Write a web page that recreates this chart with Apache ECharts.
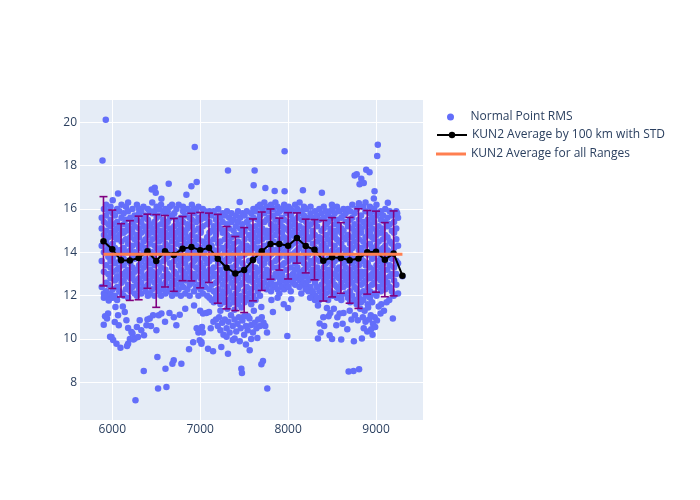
<!DOCTYPE html>
<html>
<head>
<meta charset="utf-8">
<script src="https://cdn.jsdelivr.net/npm/echarts@6/dist/echarts.min.js"></script>
<style>html,body{margin:0;padding:0;background:#fff}#c{width:700px;height:500px}</style>
</head>
<body>
<div id="c"></div>
<script>
// ---- Data ----
const xTicks = [6000, 7000, 8000, 9000];
const yTicks = [8, 10, 12, 14, 16, 18, 20];

// Normal Point RMS: dense band, by range column [range_km, [rms values]]
const bandColumns = [
[5880,[14.3,15.1,13.6,12.4,15.6]],
[5905,[14.8,13.1,15.4,12.1,14.0,16.0,11.9]],
[5930,[15.7,12.6,14.5,13.4,15.0,12.2,14.1,16.2]],
[5955,[13.0,15.3,14.7,12.0,15.9,13.8,12.5,14.3]],
[5980,[15.5,12.8,14.0,13.3,16.1,12.1,14.9,13.6,15.2]],
[6005,[14.4,12.3,15.8,13.1,14.9,11.9,13.7,15.3,16.4]],
[6030,[13.5,15.0,12.7,14.2,15.7,12.0,13.9,14.7]],
[6055,[15.4,12.4,14.6,13.2,16.0,12.9,14.0,15.1,11.8]],
[6080,[14.1,15.9,12.2,13.6,15.2,12.8,14.8,13.3]],
[6105,[12.6,14.5,15.6,13.0,16.2,14.1,12.1,15.0,13.8]],
[6130,[15.3,13.4,12.0,14.9,15.8,12.7,14.2,13.7]],
[6155,[14.0,12.3,15.5,13.1,16.1,14.6,12.9,15.0]],
[6180,[13.6,15.2,12.5,14.4,15.9,11.9,14.0,13.2,16.3]],
[6205,[15.0,12.8,14.7,13.5,15.6,12.2,14.1,13.0]],
[6230,[12.4,14.3,15.4,13.8,16.0,12.9,14.9,13.3,15.1]],
[6255,[14.6,13.1,15.7,12.1,14.0,15.2,12.7,13.7]],
[6280,[15.5,12.5,13.9,14.8,16.2,13.2,12.0,14.4]],
[6305,[13.4,15.1,12.8,14.2,15.8,12.3,14.7,13.8,16.0]],
[6330,[14.9,12.6,15.4,13.6,12.1,14.3,15.9,13.1]],
[6355,[12.9,14.5,15.2,13.3,16.1,12.4,14.0,15.6]],
[6380,[15.0,13.7,12.2,14.6,15.7,12.8,13.4,14.2]],
[6405,[14.1,12.5,15.5,13.0,16.0,14.8,12.0,13.6,15.2]],
[6430,[13.5,15.3,12.7,14.4,15.9,13.2,12.1,14.9]],
[6455,[15.8,12.3,14.0,13.8,15.1,12.9,14.6,13.1,16.3]],
[6480,[14.3,12.6,15.4,13.4,14.9,12.0,15.9,13.7]],
[6505,[12.8,14.7,15.6,13.0,16.1,14.2,12.4,15.2]],
[6530,[15.0,13.5,12.2,14.5,15.7,13.1,14.0,12.7,16.0]],
[6555,[13.9,15.3,12.5,14.8,16.2,13.3,12.0,14.2]],
[6580,[14.6,12.9,15.5,13.6,15.0,12.3,14.1,15.9]],
[6605,[12.6,14.4,15.8,13.2,16.0,14.9,12.1,13.7,15.2]],
[6630,[15.4,13.0,14.3,12.8,15.9,13.8,12.2,14.7]],
[6655,[14.0,15.6,12.4,13.5,16.1,14.8,12.9,15.1]],
[6680,[13.3,15.0,12.0,14.5,15.7,13.9,12.6,14.2,16.2]],
[6705,[15.2,12.7,14.1,13.6,15.8,12.2,14.7,13.1]],
[6730,[14.4,13.0,15.5,12.5,14.9,16.0,13.7,12.1]],
[6755,[12.8,14.6,15.3,13.4,16.2,14.0,12.3,15.0,13.9]],
[6780,[15.6,13.2,12.6,14.3,15.1,12.0,14.8,13.6]],
[6805,[14.2,15.9,12.4,13.8,15.4,12.9,14.6,13.1,16.1]],
[6830,[13.5,15.0,12.1,14.4,15.7,13.0,12.7,14.9]],
[6855,[15.3,12.8,14.1,13.7,16.0,12.3,14.7,15.1,13.3]],
[6880,[14.5,13.1,15.6,12.5,14.0,15.9,12.0,13.8]],
[6905,[12.9,14.8,15.2,13.4,16.2,14.2,12.6,15.5]],
[6930,[15.0,13.6,12.2,14.5,15.8,13.0,14.0,12.7,16.0]],
[6955,[14.3,12.4,15.4,13.3,15.9,12.9,14.7,13.8]],
[6980,[13.7,15.1,12.0,14.6,16.1,13.2,12.5,14.1,15.6]],
[7005,[15.5,12.8,14.2,13.5,15.0,12.3,14.9,13.0]],
[7030,[14.0,15.7,12.6,13.9,15.2,12.1,14.5,13.3,16.0]],
[7055,[12.9,14.4,15.6,13.1,15.9,14.1,12.4,13.7]],
[7080,[15.3,13.5,12.0,14.7,15.8,12.7,14.2,13.0]],
[7105,[14.5,12.3,15.4,13.6,14.9,11.9,15.9,13.2,12.8]],
[7130,[13.1,15.0,12.5,14.3,15.7,11.8,14.0,13.8]],
[7155,[15.2,12.9,14.6,13.3,15.9,12.2,14.1,11.7,13.7]],
[7180,[14.0,12.1,15.5,13.0,14.8,12.6,15.0,11.9]],
[7205,[12.7,14.4,15.3,13.5,16.0,11.8,14.1,12.3,15.7]],
[7230,[15.1,13.2,12.0,14.5,15.6,12.8,13.8,11.6]],
[7255,[14.2,12.5,15.4,13.0,14.9,11.9,13.6,15.8,12.2]],
[7280,[13.4,15.0,12.1,14.6,15.7,12.7,14.0,11.7]],
[7305,[15.3,12.9,14.3,13.1,15.9,12.4,14.8,11.8,13.7]],
[7330,[14.5,12.2,15.1,13.6,14.0,11.6,15.6,12.8]],
[7355,[12.6,14.2,15.4,13.3,15.8,12.0,14.7,13.9,11.9]],
[7380,[15.0,13.0,12.4,14.4,15.5,11.7,13.7,12.9]],
[7405,[14.1,12.7,15.2,13.4,14.8,12.1,15.7,11.8,13.1]],
[7430,[13.6,15.4,12.3,14.5,15.9,12.8,11.6,14.0]],
[7455,[15.1,12.5,14.2,13.2,15.6,12.0,14.8,13.8,11.8]],
[7480,[14.4,13.0,15.3,12.6,14.9,11.9,15.8,13.5]],
[7505,[12.8,14.6,15.0,13.3,15.7,12.2,14.1,11.7,13.9]],
[7530,[15.4,13.1,12.4,14.3,15.9,12.9,14.0,11.9]],
[7555,[14.0,12.7,15.5,13.6,14.8,12.1,15.2,13.2,11.8]],
[7580,[13.4,15.1,12.3,14.6,15.8,12.8,14.2,11.6]],
[7605,[15.6,12.6,14.4,13.0,16.0,12.0,14.9,13.7]],
[7630,[14.2,13.3,15.2,12.4,14.7,15.9,12.9,11.8,13.8]],
[7655,[12.7,14.5,15.5,13.1,16.1,14.0,12.2,15.0]],
[7680,[15.3,13.6,12.5,14.2,15.7,12.0,14.8,13.2,16.2]],
[7705,[14.6,12.9,15.1,13.4,16.0,12.4,14.1,13.8]],
[7730,[13.5,15.4,12.6,14.3,15.8,13.0,14.9,16.3]],
[7755,[15.0,12.8,14.7,13.7,16.1,12.3,14.0,15.5,13.2]],
[7780,[14.4,13.1,15.6,12.5,14.9,15.9,13.8,12.9]],
[7805,[12.6,14.2,15.3,13.5,16.2,14.7,12.2,15.0,13.9]],
[7830,[15.7,13.3,14.0,12.8,15.1,16.0,14.5,12.4]],
[7855,[14.1,12.5,15.5,13.6,16.3,14.8,13.0,15.2]],
[7880,[13.7,15.0,12.9,14.4,15.8,12.3,14.0,13.3,16.1]],
[7905,[15.4,12.6,14.6,13.1,15.9,14.2,12.8,13.8]],
[7930,[14.3,13.4,15.2,12.4,14.9,16.0,13.0,15.6,12.9]],
[7955,[12.7,14.7,15.5,13.5,16.2,14.0,12.3,15.1]],
[7980,[15.1,13.2,12.6,14.5,15.8,13.8,14.1,16.0,12.5]],
[8005,[14.6,12.9,15.4,13.6,16.1,12.4,14.2,15.0]],
[8030,[13.3,15.7,12.7,14.8,15.2,13.9,12.2,14.3,16.0]],
[8055,[15.5,13.0,14.4,12.6,15.9,13.7,14.9,12.9]],
[8080,[14.0,15.3,12.8,13.5,16.2,14.7,12.5,15.0,13.2]],
[8105,[12.9,14.5,15.6,13.8,15.1,14.1,13.3,16.0]],
[8130,[15.2,13.6,14.2,12.7,15.8,13.1,14.8,12.4,16.3]],
[8155,[14.4,13.0,15.5,12.8,14.9,15.9,13.7,12.5]],
[8180,[13.5,15.1,14.0,12.6,15.7,13.2,14.6,16.1]],
[8205,[15.4,12.9,14.3,13.8,16.0,12.5,14.8,13.3,15.0]],
[8230,[14.1,15.6,12.7,13.4,15.2,14.6,12.2,13.9]],
[8255,[12.8,14.7,15.3,13.1,16.1,14.0,12.4,15.8,13.6]],
[8280,[15.0,13.5,12.1,14.4,15.6,12.9,14.9,13.2]],
[8305,[14.2,12.6,15.4,13.7,14.8,12.0,15.9,13.0,11.8]],
[8330,[13.3,15.2,12.4,14.5,15.7,12.8,14.0,11.9]],
[8355,[15.5,12.9,14.1,13.6,16.0,12.2,14.7,13.1,11.8]],
[8380,[14.6,13.0,15.0,12.5,14.3,15.8,12.0,13.8]],
[8405,[12.7,14.4,15.6,13.3,15.1,11.9,14.0,12.3,16.1]],
[8430,[15.3,13.5,12.1,14.8,15.9,12.8,14.2,13.0]],
[8455,[14.0,12.6,15.4,13.2,14.6,11.8,15.7,13.7,12.4]],
[8480,[13.6,15.1,12.2,14.4,15.9,12.9,14.9,13.1]],
[8505,[15.6,12.7,14.1,13.4,15.0,12.0,14.7,13.9,16.0]],
[8530,[14.3,13.0,15.3,12.5,14.8,15.8,12.1,13.6]],
[8555,[12.9,14.6,15.5,13.2,16.1,14.0,12.4,15.0,11.9]],
[8580,[15.2,13.7,12.3,14.5,15.9,12.8,14.1,13.3]],
[8605,[14.4,12.6,15.6,13.0,14.9,12.0,15.1,13.8,11.8]],
[8630,[13.5,15.0,12.9,14.2,15.7,12.4,14.7,13.1,16.0]],
[8655,[15.4,13.3,12.1,14.6,15.8,12.7,14.0,13.7]],
[8680,[14.1,12.5,15.2,13.6,16.0,11.9,14.8,13.0,12.8]],
[8705,[12.8,14.4,15.5,13.2,15.9,12.2,14.0,11.7,13.8]],
[8730,[15.1,13.5,12.6,14.7,15.6,12.0,14.2,13.0,16.2]],
[8755,[14.5,12.9,15.3,13.3,14.9,11.8,15.8,13.7,12.4]],
[8780,[13.6,15.0,12.3,14.3,16.0,12.7,14.8,11.6,13.1]],
[8805,[15.5,12.8,14.1,13.4,15.2,12.1,14.6,16.2,11.9]],
[8830,[14.2,13.1,15.7,12.5,14.9,11.7,15.1,13.8,12.9]],
[8855,[12.6,14.5,15.4,13.0,16.1,12.2,14.0,11.8,13.6]],
[8880,[15.2,13.4,12.7,14.7,15.9,12.0,14.3,13.1,16.3]],
[8905,[14.0,12.9,15.5,13.5,14.8,11.6,15.0,12.4,13.9]],
[8930,[13.3,15.3,12.2,14.4,15.8,12.8,14.9,11.9,16.1]],
[8955,[15.6,12.5,14.2,13.7,15.1,11.7,14.7,13.0,12.9]],
[8980,[14.6,13.2,15.4,12.6,16.0,12.1,14.0,13.8,15.9]],
[9005,[12.8,14.3,15.7,13.4,15.0,12.0,14.8,13.1,16.2]],
[9030,[15.2,13.6,12.4,14.5,15.8,12.9,14.1,13.0]],
[9055,[14.0,12.7,15.5,13.3,14.9,12.2,15.9,13.8]],
[9080,[13.5,15.1,12.5,14.6,15.7,12.9,14.2,13.1]],
[9105,[15.4,12.8,14.3,13.6,16.0,12.3,14.8]],
[9130,[14.1,13.2,15.6,12.6,14.7,15.2,13.8]],
[9155,[12.9,14.5,15.3,13.4,15.9,12.4,14.0]],
[9180,[15.0,13.7,12.2,14.4,15.7,13.0]],
[9205,[14.2,12.7,15.4,13.3,14.9,15.8]],
[9230,[13.6,15.1,12.5,14.6,15.9,13.0]],
[9250,[14.3,15.6,12.1,13.5]],
[9300,[12.9]]
];

// Normal Point RMS: scattered points outside the dense band [range_km, rms]
const outlierPoints = [
[5926,20.12],[5889,18.24],[6938,18.86],[7960,18.67],[9020,18.97],[9013,18.44],
[7316,17.78],[7619,17.78],[7608,17.09],[6642,17.17],[6483,16.98],[6494,16.75],[6449,16.9],
[6843,16.66],[6900,17.05],[6960,17.24],[6066,16.71],[6559,16.47],[7741,16.97],[7847,16.83],
[7960,16.82],[8168,16.86],[7449,16.32],[8888,17.81],[8926,17.7],[8832,17.4],[8756,17.55],
[8780,17.6],[8813,17.14],[8860,17.2],[8983,16.82],[8975,16.48],[9134,16.29],[8384,16.75],
[8498,16.2],[8805,16.27],[9240,15.8],
[5903,10.66],[5952,11.17],[5915,12.0],[5960,11.78],[6036,11.47],[6066,11.09],[6028,10.78],
[6074,10.63],[5991,10.09],[6048,9.78],[6093,9.6],[6142,11.25],[6161,10.86],[6180,10.51],
[6218,10.32],[6180,9.78],[6168,9.68],[6256,10.02],[6293,10.09],[6361,10.17],[6312,10.86],
[6389,10.63],[6426,10.94],[6502,10.4],[6528,11.09],[6464,11.09],[6559,11.17],[6729,10.63],
[6767,11.12],[6873,9.52],[6930,11.55],[7020,10.55],[6994,9.94],[7014,9.78],[6513,9.17],
[6358,8.52],[6605,8.63],[6699,9.02],[6786,8.86],[6684,8.86],[6521,7.71],[6616,7.78],[6264,7.17],
[5918,11.05],[5940,10.95],[5975,10.1],[6010,9.95],[6120,11.5],[6200,10.0],[6230,10.25],
[6240,9.98],[6280,10.55],[6330,10.4],[6400,10.9],[6440,10.6],[6600,10.8],[6650,11.2],
[6700,11.0],[6830,11.4],[6960,10.5],[6980,10.3],[7000,11.3],[6920,9.85],
[7032,11.17],[7070,11.2],[7100,11.25],[7010,10.4],[7030,10.3],[7014,9.86],[7089,9.55],
[7146,9.43],[7240,9.63],[7316,9.32],[7392,10.02],[7468,8.63],[7475,8.43],[7563,9.48],
[7714,8.98],[7696,8.83],[7763,7.71],[7991,10.14],[7998,11.43],[8036,11.83],[7827,11.25],
[7695,11.47],[7700,11.0],[7543,11.05],[7500,11.05],
[7180,10.9],[7200,10.6],[7215,11.0],[7230,10.4],[7250,10.75],[7265,10.2],[7280,10.9],
[7300,10.5],[7320,10.8],[7335,10.3],[7350,11.1],[7370,10.6],[7390,10.9],[7410,10.35],
[7425,10.7],[7440,11.0],[7460,10.5],[7480,10.85],[7500,10.2],[7520,10.6],[7540,10.4],
[7560,10.95],[7580,10.65],[7600,10.3],[7620,10.75],[7640,10.5],[7660,10.9],[7680,10.6],
[7230,11.3],[7310,11.4],[7390,11.35],[7470,11.45],[7610,11.3],[7150,10.8],[7120,10.5],
[7450,9.9],[7520,9.75],[7580,10.0],[7370,9.95],[7650,10.05],[7300,10.1],
[7740,10.6],[7760,10.3],[7720,10.75],[7810,11.8],[7880,11.9],[7900,12.1],[7950,11.6],
[8150,12.1],[8200,12.3],[8250,11.9],[8280,12.2],
[8339,11.55],[8358,10.71],[8339,10.02],[8370,10.3],[8410,10.6],[8472,10.17],[8500,10.0],
[8548,10.63],[8585,11.17],[8604,9.98],[8630,11.2],[8673,10.45],[8748,9.89],[8839,10.02],
[8793,10.86],[8860,10.5],[8880,10.8],[8900,10.35],[8920,10.9],[8945,10.45],[8965,10.7],
[8985,11.0],[9051,11.17],[9090,11.3],[9191,10.94],[8688,8.5],[8744,8.52],[8807,8.6],
[8441,11.43],[8460,11.05],[8480,11.2],[8400,11.0],[8520,11.4],[8560,11.0],[8620,10.7],
[8700,11.3],[8720,10.9],[8760,11.1],[8820,11.4],[8850,11.0],[8870,11.3],[8910,11.45],
[8940,11.1],[8960,10.2],[8990,10.55],[9010,10.85],[9030,11.5],[9060,11.6],[9120,11.7],
[9150,11.8],[9200,12.0]
];

// KUN2 average by 100 km with STD
const binRanges = [5900,6000,6100,6200,6300,6400,6500,6600,6700,6800,6900,7000,7100,7200,7300,7400,7500,7600,7700,7800,7900,8000,8100,8200,8300,8400,8500,8600,8700,8800,8900,9000,9100,9200,9300];
const binMeans = [14.51,14.14,13.63,13.62,13.74,14.05,13.6,14.05,13.88,14.17,14.24,14.1,14.21,13.7,13.29,13.02,13.18,13.65,14.05,14.38,14.38,14.3,14.66,14.29,14.12,13.61,13.77,13.74,13.63,13.71,14.0,14.03,13.66,13.95,12.92];
const binStd = [2.06,1.81,1.69,1.84,1.93,1.71,2.14,1.65,1.68,1.48,1.56,1.74,1.6,2.05,1.9,1.71,1.96,1.89,1.81,1.62,1.2,1.53,1.16,1.24,1.39,1.86,1.83,1.63,1.98,2.3,1.93,1.87,1.71,1.96,0];

// KUN2 average for all ranges
const overallMean = 13.91;
const overallRange = [5900, 9300];

// ---- Build series data ----
const scatterData = [];
bandColumns.forEach(function (col) { col[1].forEach(function (y) { scatterData.push([col[0], y]); }); });
outlierPoints.forEach(function (p) { scatterData.push(p); });
const avgData = binRanges.map(function (x, i) { return [x, binMeans[i]]; });
const errData = binRanges.map(function (x, i) { return [x, binMeans[i] - binStd[i], binMeans[i] + binStd[i]]; });
const overallData = overallRange.map(function (x) { return [x, overallMean]; });

const FONT = '"Open Sans", verdana, arial, sans-serif';
const TXT = '#2a3f5f';
const legendText = { color: TXT, fontSize: 12, fontFamily: FONT };

const chart = echarts.init(document.getElementById('c'), null, { renderer: 'canvas' });
chart.setOption({
  animation: false,
  backgroundColor: '#ffffff',
  textStyle: { fontFamily: FONT },
  grid: { left: 80, top: 100, right: 277, bottom: 80, show: true, backgroundColor: '#E5ECF6', borderWidth: 0 },
  xAxis: {
    type: 'value', min: 5633, max: 9534,
    axisLine: { show: false },
    axisTick: { show: false, customValues: xTicks },
    axisLabel: { customValues: xTicks, color: TXT, fontSize: 12, fontFamily: FONT, margin: 4,
      formatter: function (v) { return String(v); } },
    splitLine: { show: true, lineStyle: { color: '#ffffff', width: 1 } }
  },
  yAxis: {
    type: 'value', min: 6.26, max: 21.03,
    axisLine: { show: false },
    axisTick: { show: false, customValues: yTicks },
    axisLabel: { customValues: yTicks, color: TXT, fontSize: 12, fontFamily: FONT, margin: 3 },
    splitLine: { show: true, lineStyle: { color: '#ffffff', width: 1 } }
  },
  legend: [
    { data: [{ name: 'Normal Point RMS', icon: 'circle' }], left: 442, top: 106, orient: 'vertical',
      itemWidth: 30, itemHeight: 7, textStyle: legendText },
    { data: ['KUN2 Average by 100 km with STD'], left: 431, top: 124, orient: 'vertical',
      itemWidth: 30, itemHeight: 8, textStyle: legendText },
    { data: [{ name: 'KUN2 Average for all Ranges', icon: 'rect' }], left: 431, top: 143, orient: 'vertical',
      itemWidth: 30, itemHeight: 3, textStyle: legendText }
  ],
  series: [
    {
      name: 'Normal Point RMS', type: 'scatter', data: scatterData,
      symbol: 'circle', symbolSize: 6.5, itemStyle: { color: '#636EFA', opacity: 1 }, z: 1
    },
    {
      name: 'errbars', type: 'custom', data: errData, z: 2,
      renderItem: function (params, api) {
        const x = api.value(0), lo = api.value(1), hi = api.value(2);
        if (hi - lo <= 0) return null;
        const pLo = api.coord([x, lo]), pHi = api.coord([x, hi]);
        const w = 4;
        const st = { stroke: '#800080', lineWidth: 1.6 };
        return { type: 'group', children: [
          { type: 'line', shape: { x1: pLo[0], y1: pLo[1], x2: pHi[0], y2: pHi[1] }, style: st },
          { type: 'line', shape: { x1: pHi[0] - w, y1: pHi[1], x2: pHi[0] + w, y2: pHi[1] }, style: st },
          { type: 'line', shape: { x1: pLo[0] - w, y1: pLo[1], x2: pLo[0] + w, y2: pLo[1] }, style: st }
        ]};
      }
    },
    {
      name: 'KUN2 Average by 100 km with STD', type: 'line', data: avgData, z: 3,
      symbol: 'circle', symbolSize: 6.5, showSymbol: true,
      lineStyle: { color: '#000000', width: 2 }, itemStyle: { color: '#000000' }
    },
    {
      name: 'KUN2 Average for all Ranges', type: 'line', data: overallData, z: 4,
      symbol: 'none', lineStyle: { color: '#FF7F50', width: 3 }, itemStyle: { color: '#FF7F50' }
    }
  ]
});
</script>
</body>
</html>
